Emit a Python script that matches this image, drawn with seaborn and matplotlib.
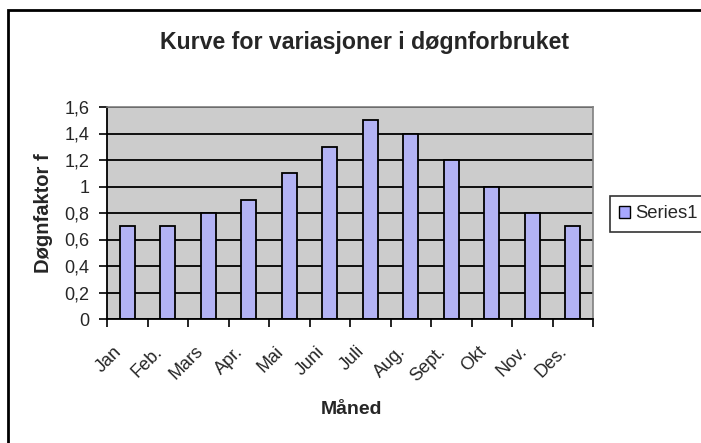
import matplotlib
matplotlib.use("Agg")
import matplotlib.pyplot as plt
from matplotlib.patches import Rectangle
from matplotlib.transforms import ScaledTranslation
import seaborn as sns
import pandas as pd

months = ["Jan", "Feb.", "Mars", "Apr.", "Mai", "Juni", "Juli",
          "Aug.", "Sept.", "Okt", "Nov.", "Des."]
dognfaktor = [0.7, 0.7, 0.8, 0.9, 1.1, 1.3, 1.5, 1.4, 1.2, 1.0, 0.8, 0.7]
y_ticks = [0, 0.2, 0.4, 0.6, 0.8, 1.0, 1.2, 1.4, 1.6]
y_tick_labels = ["0", "0,2", "0,4", "0,6", "0,8", "1", "1,2", "1,4", "1,6"]
series_name = "Series1"

sns.set_theme(style="white")
plt.rcParams["font.family"] = ["Liberation Sans", "DejaVu Sans"]

df = pd.DataFrame({"Måned": months, "Døgnfaktor f": dognfaktor,
                   "serie": series_name})

bar_color = "#A8A8FF"
fig = plt.figure(figsize=(7.01, 4.43), dpi=100)
ax = fig.add_axes([107 / 701, 1 - 319 / 443, 486 / 701, 212 / 443])
ax.set_facecolor("#CCCCCC")

sns.barplot(data=df, x="Måned", y="Døgnfaktor f", hue="serie",
            palette=[bar_color], width=0.38, edgecolor="black",
            linewidth=1.3, legend=False, ax=ax)

ax.set_ylim(0, 1.6)
ax.set_xlim(-0.5, len(months) - 0.5)
ax.set_yticks(y_ticks)
ax.set_yticklabels(y_tick_labels, fontsize=13)
ax.yaxis.grid(True, color="black", linewidth=1.3)
ax.set_axisbelow(True)

# category boundary tick marks
ax.set_xticks([i - 0.5 for i in range(len(months) + 1)], minor=True)
ax.tick_params(axis="x", which="minor", length=5.5, width=1.2,
               color="black", direction="out", bottom=True)
ax.set_xticks(range(len(months)))
ax.set_xticklabels(months, fontsize=13, rotation=45, ha="right",
                   va="center", rotation_mode="anchor")
ax.tick_params(axis="x", which="major", length=0, pad=21.6)
ax.tick_params(axis="y", which="major", length=5.5, width=1.2,
               color="black", direction="out", left=True, pad=7)

shift = ScaledTranslation(-8 / 100, 0, fig.dpi_scale_trans)
for lbl in ax.get_xticklabels():
    lbl.set_transform(lbl.get_transform() + shift)

for side in ["top", "right"]:
    ax.spines[side].set_color("#808080")
    ax.spines[side].set_linewidth(1.2)
for side in ["left", "bottom"]:
    ax.spines[side].set_color("black")
    ax.spines[side].set_linewidth(1.3)

ax.set_xlabel("Måned", fontsize=14, fontweight="bold")
ax.set_ylabel("Døgnfaktor f", fontsize=14.5, fontweight="bold")
ax.xaxis.set_label_coords(0.5 + 1 / 486, -91 / 212)
ax.yaxis.set_label_coords(-63 / 486, 0.5)
ax.xaxis.label.set_va("center")
ax.yaxis.label.set_va("center")

fig.text(364 / 701, 1 - 42 / 443,
         "Kurve for variasjoner i døgnforbruket",
         ha="center", va="center", fontsize=16.7, fontweight="bold")

handle = Rectangle((0, 0), 1, 1, facecolor=bar_color, edgecolor="black",
                   linewidth=1.0)
leg = fig.legend([handle], [series_name], loc="center left",
                 bbox_to_anchor=(610 / 701, 1 - 214 / 443), fontsize=13.3,
                 frameon=True, fancybox=False, handlelength=0.6,
                 handleheight=0.7, handletextpad=0.25, borderpad=0.5,
                 borderaxespad=0)
leg.get_frame().set_edgecolor("black")
leg.get_frame().set_linewidth(1.2)

# chart area border
fig.patches.append(Rectangle((8 / 701, -0.2), 1.2, 1 - 10 / 443 + 0.2,
                             transform=fig.transFigure, fill=False,
                             edgecolor="black", linewidth=2))

fig.savefig("out.png", dpi=100)
